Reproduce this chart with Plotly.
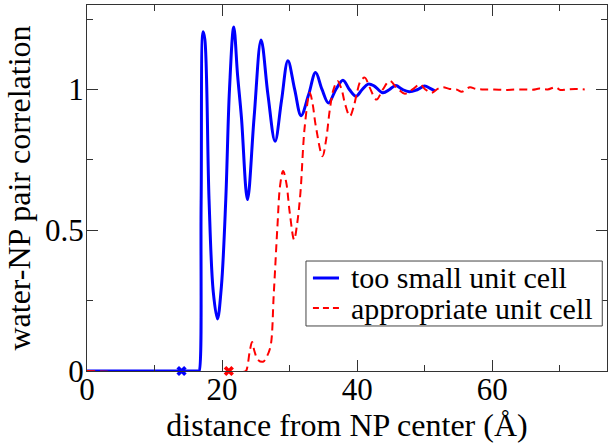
import plotly.graph_objects as go

# too small unit cell (blue, solid)
small_x = [0, 16.5, 16.6, 16.9, 17.19, 17.45, 18.07, 18.7, 19.32, 19.9, 20.55, 21.1, 21.73,
           22.3, 22.87, 23.76, 24.74, 25.78, 26.8, 27.85, 28.8, 29.75, 30.75, 31.7, 32.8,
           33.85, 34.8, 35.75, 36.85, 37.9, 38.85, 39.85, 40.75, 41.63, 42.5, 43.8, 44.8,
           45.72, 46.7, 47.7, 48.8, 50.0, 50.8, 51.5]
small_y = [0, 0, 0, 0.6, 1.205, 1.178, 0.61, 0.28, 0.185, 0.3, 0.609, 1.0, 1.222,
           1.05, 0.9, 0.609, 0.9, 1.176, 0.98, 0.816, 0.96, 1.102, 1.0, 0.907, 0.98,
           1.06, 1.0, 0.952, 1.0, 1.033, 1.0, 0.976, 1.0, 1.019, 1.013, 0.988, 1.0,
           1.014, 1.0, 0.992, 0.998, 1.012, 1.004, 0.995]

# appropriate unit cell (red, dashed)
appr_x = [0, 23.5, 23.7, 24.1, 24.44, 24.8, 25.3, 26.07, 26.6, 27.17, 27.66, 28.2, 28.6,
          29.04, 29.5, 30.03, 30.67, 31.1, 31.6, 32.25, 32.99, 33.4, 33.88, 34.87, 35.4,
          35.96, 36.5, 37.1, 37.7, 38.2, 38.92, 39.5, 39.9, 40.5, 41.14, 41.8, 42.87,
          43.8, 44.84, 45.9, 47.07, 48.2, 49.29, 50.1, 51.0, 52.0, 52.74, 53.7, 54.7,
          55.5, 56.2, 56.7, 57.6, 58.5, 59.6, 61.0, 62.0, 63.5, 65.0, 66.0, 67.0, 68.2,
          69.4, 70.1, 71.0, 72.3, 73.7]
appr_y = [0, 0, 0.01, 0.07, 0.103, 0.07, 0.04, 0.033, 0.05, 0.087, 0.276, 0.514, 0.66,
          0.71, 0.67, 0.561, 0.466, 0.52, 0.632, 0.87, 0.988, 0.95, 0.87, 0.763, 0.82,
          0.929, 1.0, 1.03, 1.0, 0.95, 0.905, 0.94, 0.98, 1.03, 1.042, 1.01, 0.964,
          1.0, 1.03, 1.005, 0.985, 1.0, 1.018, 1.0, 0.988, 1.003, 1.008, 1.002, 1.0,
          0.992, 1.002, 1.008, 1.002, 1.0, 1.0, 0.999, 0.998, 1.0, 1.0, 0.999, 1.003, 1.0,
          1.008, 0.998, 1.0, 1.002, 1.0]

# NP radius markers
mark_small_x = [14.0]
mark_appr_x = [21.0]
mark_y = [0]

x_ticks = [0, 20, 40, 60]
y_ticks = [0, 0.5, 1]
y_tick_labels = ["0", "0.5", "1"]
series_names = ["too small unit cell", "appropriate unit cell"]

FONT = "Liberation Serif"
BLUE = "#0000ff"
RED = "#ff0000"
AXC = "#333333"

fig = go.Figure()
fig.add_trace(go.Scatter(x=small_x, y=small_y, mode="lines", name=series_names[0],
                         showlegend=False,
                         line=dict(color=BLUE, width=3, shape="spline", smoothing=1.0)))
fig.add_trace(go.Scatter(x=appr_x, y=appr_y, mode="lines", name=series_names[1],
                         showlegend=False,
                         line=dict(color=RED, width=2, dash="8px,5px", shape="spline",
                                   smoothing=1.0)))
fig.add_trace(go.Scatter(x=mark_small_x, y=mark_y, mode="markers", showlegend=False,
                         cliponaxis=False,
                         marker=dict(symbol="x", size=9, color=BLUE, line=dict(width=0))))
fig.add_trace(go.Scatter(x=mark_appr_x, y=mark_y, mode="markers", showlegend=False,
                         cliponaxis=False,
                         marker=dict(symbol="x", size=9, color=RED, line=dict(width=0))))

axis_common = dict(showline=True, linecolor=AXC, linewidth=1, mirror="allticks",
                   ticks="inside", ticklen=11, tickcolor=AXC, tickwidth=1,
                   showgrid=False, zeroline=False, automargin=False,
                   tickfont=dict(family=FONT, size=31, color="black"))

fig.update_xaxes(range=[0, 77], tickvals=x_ticks, ticktext=[str(v) for v in x_ticks],
                 ticklabelstandoff=-9,
                 minor=dict(ticks="inside", ticklen=6, tickvals=[10, 30, 50, 70],
                            tickcolor=AXC),
                 title=dict(text="distance from NP center (Å)",
                            font=dict(family=FONT, size=32, color="black"), standoff=1),
                 **axis_common)
fig.update_yaxes(range=[0, 1.3], tickvals=y_ticks, ticktext=y_tick_labels,
                 ticklabelstandoff=-4,
                 minor=dict(ticks="inside", ticklen=6, tickvals=[0.25, 0.75, 1.25],
                            tickcolor=AXC),
                 title=dict(text="water-NP pair correlation",
                            font=dict(family=FONT, size=32, color="black"), standoff=4),
                 **axis_common)

# legend box drawn in paper coordinates (xmgrace style)
fig.add_shape(type="rect", xref="paper", yref="paper", x0=0.4211, x1=0.9909, y0=0.123,
              y1=0.3005, line=dict(color="#444444", width=1), fillcolor="white", layer="above")
fig.add_shape(type="line", xref="paper", yref="paper", x0=0.4345, x1=0.4846, y0=0.2541,
              y1=0.2541, line=dict(color=BLUE, width=3), layer="above")
fig.add_shape(type="line", xref="paper", yref="paper", x0=0.4345, x1=0.4846, y0=0.1721,
              y1=0.1721, line=dict(color=RED, width=2, dash="6px,4px"), layer="above")
for name, ypos in zip(series_names, [0.2545, 0.1721]):
    fig.add_annotation(text=name, xref="paper", yref="paper", x=0.5035, y=ypos,
                       xanchor="left", yanchor="middle", showarrow=False,
                       font=dict(family=FONT, size=30, color="black"))

fig.update_layout(
    width=612, height=444,
    margin=dict(l=87, r=5, t=5, b=73),
    plot_bgcolor="white", paper_bgcolor="white",
    font=dict(family=FONT, color="black"),
    showlegend=False,
)

fig.write_html("out.html", config={"displayModeBar": False},
               post_script="document.body.style.margin='0';")
